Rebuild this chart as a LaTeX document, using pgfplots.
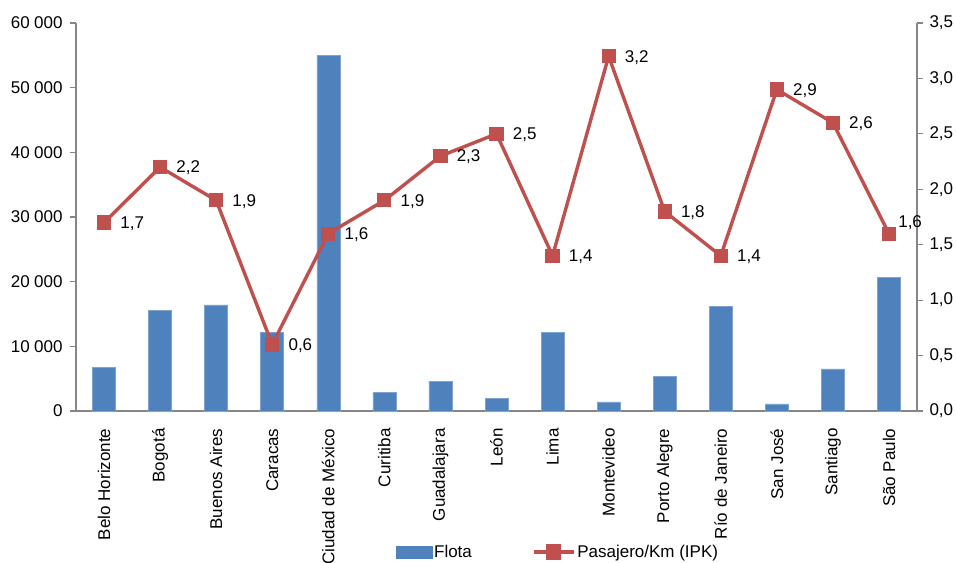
\documentclass[border=0pt]{standalone}
\usepackage{fontspec}
\setmainfont{Liberation Sans}
\usepackage{pgfplots}
\pgfplotsset{compat=1.18}
\definecolor{barblue}{HTML}{4F81BD}
\definecolor{baredge}{HTML}{7EA3D0}
\definecolor{linered}{HTML}{C0504D}
\definecolor{axgray}{HTML}{868686}
\begin{document}
\begin{tikzpicture}[font=\fontsize{17bp}{20bp}\selectfont]
\pgfplotsset{
  common/.style={
    scale only axis, width=841bp, height=388bp,
    xmin=-0.5, xmax=14.5,
    axis line style={axgray, line width=1.4bp},
    tick style={axgray, line width=1.2bp},
    /pgf/number format/assume math mode=true,
    tick label style={font=\fontsize{17bp}{20bp}\selectfont},
  }
}
\begin{axis}[common,
  axis y line*=left, axis x line*=bottom,
  ymin=0, ymax=60000, ytick={0,10000,...,60000},
  scaled y ticks=false,
  yticklabel style={xshift=-4bp, /pgf/number format/.cd,1000 sep={\hspace{0.25em}}},
  ytick align=outside, major tick length=6bp,
  xtick={0,...,14},
  xticklabels={Belo Horizonte,Bogotá,Buenos Aires,Caracas,Ciudad de México,Curitiba,Guadalajara,León,Lima,Montevideo,Porto Alegre,Río de Janeiro,San José,Santiago,São Paulo},
  x tick style={draw=none},
  minor xtick={-0.5,0.5,...,14.5},
  minor x tick style={axgray, line width=1.2bp},
  minor tick length=6bp,
  xtick align=outside,
  xticklabel style={yshift=-8bp, rotate=90, anchor=east},
  clip=false,
]
\addplot[ybar, bar width=23bp, fill=barblue, draw=baredge, line width=0.6bp, forget plot]
coordinates {
(0,6800) (1,15600) (2,16400) (3,12100) (4,55000) (5,2900) (6,4600) (7,1900)
(8,12200) (9,1400) (10,5400) (11,16200) (12,1100) (13,6500) (14,20700)
};
\end{axis}
\begin{axis}[common,
  axis y line*=right, axis x line=none,
  ymin=0, ymax=3.5, ytick={0,0.5,...,3.5},
  yticklabel style={xshift=3bp, /pgf/number format/.cd,fixed,fixed zerofill,precision=1,use comma},
  ytick align=outside, major tick length=6bp,
  legend style={at={(rel axis cs:0.573,-0.363)}, anchor=center, draw=none, fill=none, legend columns=2,
    font=\fontsize{17bp}{20bp}\selectfont,
    nodes={inner sep=2bp},
    /tikz/every even column/.append style={column sep=58bp}},
  clip=false,
]
\addlegendimage{legend image code/.code={\fill[barblue] (0bp,-6bp) rectangle (36bp,6bp);}}
\addlegendentry{Flota}
\addplot[linered, line width=3.4bp, mark=square*, mark size=6.6bp,
  mark options={line width=0bp, fill=linered, draw=linered},
  nodes near coords={\pgfmathprintnumber[fixed,fixed zerofill,precision=1,use comma]{\pgfplotspointmeta}},
  every node near coord/.append style={anchor=west, xshift=13bp, yshift=-1bp, text=black, font=\fontsize{17bp}{20bp}\selectfont},
  coordinate style/.condition={x==14}{xshift=-7bp, yshift=12bp},
  legend image code/.code={\draw[linered, line width=3.4bp] (0bp,0bp) -- (40bp,0bp);
    \fill[linered] (14bp,-6bp) rectangle (26bp,6bp);}
]
coordinates {
(0,1.7) (1,2.2) (2,1.9) (3,0.6) (4,1.6) (5,1.9) (6,2.3) (7,2.5)
(8,1.4) (9,3.2) (10,1.8) (11,1.4) (12,2.9) (13,2.6) (14,1.6)
};
\addlegendentry{Pasajero/Km (IPK)}
\end{axis}
\pgfresetboundingbox
\path[use as bounding box] (-76bp,-152bp) rectangle (880bp,411bp);
\end{tikzpicture}
\end{document}
